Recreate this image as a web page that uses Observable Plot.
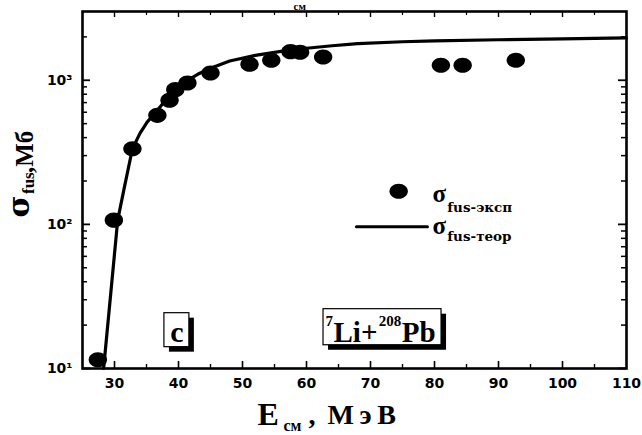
<!DOCTYPE html>
<html>
<head>
<meta charset="utf-8">
<script src="https://cdn.jsdelivr.net/npm/d3@7"></script>
<script src="https://cdn.jsdelivr.net/npm/@observablehq/plot@0.6"></script>
<style>
  html, body { margin: 0; padding: 0; background: #fff; }
  #chart svg { display: block; }
</style>
</head>
<body>
<div id="chart"></div>
<script>
// ---- Data ----
const expE     = [27.4, 29.9, 32.8, 36.7, 38.6, 39.5, 41.4, 45.0, 51.1, 54.5, 57.5, 59.0, 62.6, 81.0, 84.4, 92.7];
const expSigma = [11.5, 107, 335, 571, 727, 861, 958, 1124, 1291, 1377, 1580, 1565, 1452, 1271, 1271, 1377];

const theoE     = [28.3, 30.5, 31.5, 32.8, 34.0, 35.1, 36.0, 36.7, 37.5, 38.5, 39.5, 40.5, 41.4, 43.0, 45.0, 48.0, 52.0, 56.0, 60.0, 64.0, 68.0, 75.0, 80.0, 90.0, 100.0, 110.0];
const theoSigma = [10, 107, 177, 335, 430, 512, 570, 620, 685, 760, 840, 925, 1000, 1100, 1211, 1361, 1487, 1585, 1668, 1736, 1793, 1851, 1877, 1911, 1938, 1966];

const xTickValues = [30, 40, 50, 60, 70, 80, 90, 100, 110];
const xMinorTicks = [35, 45, 55, 65, 75, 85, 95, 105];
const yTickValues = [10, 100, 1000];
const yTickLabels = ["10\u00B9", "10\u00B2", "10\u00B3"];
const yMinorTicks = [20, 30, 40, 50, 60, 70, 80, 90, 200, 300, 400, 500, 600, 700, 800, 900, 2000];

const legendLabels = {exp: "fus-эксп", theo: "fus-теор"};
const panelLabel = "c";

// annotation anchors (in data units)
const legendDot  = [{x: 74.4, y: 170}];
const legendLine = [{x: 67.8, y: 96.2}, {x: 78.9, y: 96.2}];
const legendSigma = [{x: 79.7, y: 143, t: "σ"}, {x: 79.7, y: 85.6, t: "σ"}];
const legendSub   = [{x: 82.0, y: 122, t: legendLabels.exp}, {x: 82.0, y: 76.6, t: legendLabels.theo}];
const boxes = [
  {x1: 37.8, x2: 41.7, y1: 14.06, y2: 24.2},
  {x1: 62.66, x2: 81.1, y1: 14.5, y2: 25.8}
];
const panelText = [{x: 39.75, y: 15.3, t: panelLabel}];
const reactionMain = [{x: 64.22, y: 15.35, t: "Li+"}, {x: 74.9, y: 15.35, t: "Pb"}];
const reactionSup  = [{x: 62.97, y: 19.67, t: "7"}, {x: 71.3, y: 19.67, t: "208"}];

// ---- Layout ----
const W = 642, H = 435;
const mL = 82, mR = 16, mT = 11, mB = 67;
const iW = W - mL - mR, iH = H - mT - mB;

const expData = expE.map((e, i) => ({e, s: expSigma[i]}));
const theoData = theoE.map((e, i) => ({e, s: theoSigma[i]}));

// ellipse symbol (the scanned dots are slightly wider than tall)
const ellipse = {
  draw(ctx, size) {
    const r = Math.sqrt(size / Math.PI);
    const rx = r * 1.12, ry = r * 0.92, k = 0.5523;
    ctx.moveTo(rx, 0);
    ctx.bezierCurveTo(rx, ry * k, rx * k, ry, 0, ry);
    ctx.bezierCurveTo(-rx * k, ry, -rx, ry * k, -rx, 0);
    ctx.bezierCurveTo(-rx, -ry * k, -rx * k, -ry, 0, -ry);
    ctx.bezierCurveTo(rx * k, -ry, rx, -ry * k, rx, 0);
    ctx.closePath();
  }
};

const sans = "'DejaVu Sans', Verdana, sans-serif";
const serif = "'Liberation Serif', 'Times New Roman', serif";
const serif2 = "'DejaVu Serif', serif";

const txt = (data, opts) => Plot.text(data, {textAnchor: "start", lineAnchor: "bottom", fontWeight: "bold", fill: "#000", ...opts});

const chart = Plot.plot({
  width: W,
  height: H,
  marginLeft: mL, marginRight: mR, marginTop: mT, marginBottom: mB,
  style: {background: "#fff", color: "#000", fontFamily: sans},
  x: {domain: [25, 110]},
  y: {type: "log", domain: [10, 3000]},
  marks: [
    // axis labels (no ticks; inward ticks drawn below)
    Plot.axisX({ticks: xTickValues, tickSize: 0, tickPadding: 10, tickFormat: d => String(d),
      fontSize: 14, fontWeight: "bold", fontFamily: sans, label: null}),
    Plot.axisY({ticks: yTickValues, tickSize: 0, tickPadding: 10,
      tickFormat: d => yTickLabels[yTickValues.indexOf(d)],
      fontSize: 14, fontWeight: "bold", fontFamily: sans, label: null}),

    // inward ticks: bottom & top
    Plot.ruleX(xTickValues.slice(0, -1), {insetTop: iH - 7, stroke: "#000", strokeWidth: 1.6}),
    Plot.ruleX(xMinorTicks, {insetTop: iH - 4, stroke: "#000", strokeWidth: 1.4}),
    Plot.ruleX(xTickValues.slice(0, -1), {insetBottom: iH - 6, stroke: "#000", strokeWidth: 1.4}),
    Plot.ruleX(xMinorTicks, {insetBottom: iH - 4, stroke: "#000", strokeWidth: 1.2}),
    // inward ticks: left & right
    Plot.ruleY(yTickValues, {insetRight: iW - 8, stroke: "#000", strokeWidth: 1.8}),
    Plot.ruleY(yMinorTicks, {insetRight: iW - 5, stroke: "#000", strokeWidth: 1.5}),
    Plot.ruleY(yTickValues, {insetLeft: iW - 8, stroke: "#000", strokeWidth: 1.8}),
    Plot.ruleY(yMinorTicks, {insetLeft: iW - 5, stroke: "#000", strokeWidth: 1.5}),

    Plot.frame({stroke: "#000", strokeWidth: 2.6}),

    // theory curve
    Plot.line(theoData, {x: "e", y: "s", stroke: "#000", strokeWidth: 3.2, strokeLinejoin: "round", curve: "linear"}),
    // experiment
    Plot.dot(expData, {x: "e", y: "s", r: 8.2, fill: "#000", stroke: "none", symbol: ellipse}),

    // legend
    Plot.dot(legendDot, {x: "x", y: "y", r: 8.2, fill: "#000", stroke: "none", symbol: ellipse}),
    Plot.line(legendLine, {x: "x", y: "y", stroke: "#000", strokeWidth: 3}),
    txt(legendSigma, {x: "x", y: "y", text: "t", fontSize: 25, fontFamily: serif}),
    txt(legendSub, {x: "x", y: "y", text: "t", fontSize: 13.5, fontFamily: serif2}),

    // annotation boxes with drop shadow
    Plot.rect(boxes, {x1: "x1", x2: "x2", y1: "y1", y2: "y2", fill: "#000", dx: 5, dy: 5}),
    Plot.rect(boxes, {x1: "x1", x2: "x2", y1: "y1", y2: "y2", fill: "#fff", stroke: "#000", strokeWidth: 1.2}),
    Plot.text(panelText, {x: "x", y: "y", text: "t", textAnchor: "middle", lineAnchor: "bottom",
      fontSize: 30, fontWeight: "bold", fontFamily: serif, fill: "#000"}),
    txt(reactionMain, {x: "x", y: "y", text: "t", fontSize: 29, fontFamily: serif}),
    txt(reactionSup, {x: "x", y: "y", text: "t", fontSize: 15, fontFamily: serif}),

    // x-axis title: E_см, МэВ
    txt(["E"], {frameAnchor: "bottom-left", dx: 175, dy: 56.5, fontSize: 32, fontFamily: serif}),
    txt(["см"], {frameAnchor: "bottom-left", dx: 201, dy: 62.7, fontSize: 16, fontFamily: serif}),
    txt([","], {frameAnchor: "bottom-left", dx: 226, dy: 55.5, fontSize: 28, fontFamily: serif}),
    txt(["М\u2009э\u2009В"], {frameAnchor: "bottom-left", dx: 245, dy: 55.5, fontSize: 28, fontFamily: serif}),

    // y-axis title: σ_fus, Мб (rotated)
    txt(["σ"], {frameAnchor: "left", dx: -54, dy: 27.5, rotate: -90, fontSize: 30, fontFamily: serif2}),
    txt(["fus"], {frameAnchor: "left", dx: -48.5, dy: 4, rotate: -90, fontSize: 17, fontFamily: serif}),
    txt([",Мб"], {frameAnchor: "left", dx: -50, dy: -17, rotate: -90, fontSize: 25, fontFamily: serif}),

    // subscript of the panel above (cut at the top edge in the scan)
    txt(["см"], {frameAnchor: "top-left", dx: 211, dy: -1.5, fontSize: 11, fontFamily: serif})
  ]
});

document.getElementById("chart").appendChild(chart);
</script>
</body>
</html>
